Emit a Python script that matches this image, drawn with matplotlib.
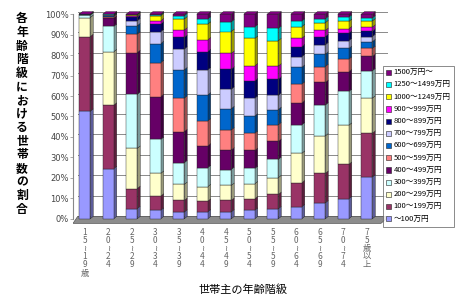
import numpy as np
import matplotlib
matplotlib.use("Agg")
from matplotlib import pyplot as plt
from matplotlib.patches import Polygon, Patch

plt.rcParams['font.family'] = ['Noto Sans CJK JP', 'DejaVu Sans']

# age groups (vertical labels)
ageLabels = ["1\n5\n≀\n1\n9\n歳", "2\n0\n≀\n2\n4", "2\n5\n≀\n2\n9", "3\n0\n≀\n3\n4",
             "3\n5\n≀\n3\n9", "4\n0\n≀\n4\n4", "4\n5\n≀\n4\n9", "5\n0\n≀\n5\n4",
             "5\n5\n≀\n5\n9", "6\n0\n≀\n6\n4", "6\n5\n≀\n6\n9", "7\n0\n≀\n7\n4",
             "7\n5\n歳\n以\n上"]

# income brackets, bottom -> top
incomeLabels = ["～100万円", "100～199万円", "200～299万円", "300～399万円", "400～499万円",
                "500～599万円", "600～699万円", "700～799万円", "800～899万円", "900～999万円",
                "1000～1249万円", "1250～1499万円", "1500万円～"]
colors = ["#9999FF", "#993366", "#FFFFCC", "#CCFFFF", "#660066", "#FF8080", "#0066CC",
          "#CCCCFF", "#000080", "#FF00FF", "#FFFF00", "#00FFFF", "#800080"]

inc0 = [52.5, 24.5, 5.0, 4.2, 3.3, 3.4, 3.4, 4.2, 4.9, 5.9, 7.8, 9.8, 20.4]
inc100 = [36.5, 31.0, 9.8, 6.9, 5.7, 5.2, 5.6, 5.6, 7.0, 11.7, 14.4, 16.8, 21.4]
inc200 = [9.3, 26.1, 19.6, 11.1, 7.8, 7.1, 7.3, 7.3, 8.2, 14.4, 18.3, 19.1, 17.1]
inc300 = [1.2, 12.4, 26.4, 16.6, 10.6, 9.3, 7.8, 7.5, 8.9, 13.9, 15.1, 16.5, 13.4]
inc400 = [0.2, 4.0, 20.4, 20.9, 15.2, 10.6, 9.5, 8.8, 8.8, 10.7, 11.0, 9.6, 7.0]
inc500 = [0.1, 0.8, 9.0, 16.6, 16.3, 12.2, 9.8, 8.4, 8.1, 9.2, 7.8, 6.2, 3.9]
inc600 = [0.05, 0.4, 4.1, 9.3, 13.9, 12.7, 10.4, 8.4, 7.5, 8.2, 6.0, 5.2, 3.3]
inc700 = [0.0, 0.2, 2.4, 5.8, 10.1, 12.3, 9.5, 8.7, 6.9, 5.2, 4.6, 3.8, 2.5]
inc800 = [0.0, 0.2, 1.7, 3.7, 5.7, 8.9, 9.8, 8.5, 7.9, 4.9, 4.0, 3.6, 2.6]
inc900 = [0.0, 0.1, 0.5, 1.6, 3.6, 5.7, 7.7, 7.3, 6.4, 4.1, 3.0, 2.2, 2.0]
inc1000 = [0.05, 0.1, 0.6, 2.5, 5.4, 7.7, 10.7, 13.4, 12.4, 5.7, 3.8, 3.6, 3.0]
inc1250 = [0.0, 0.1, 0.2, 0.4, 1.6, 2.5, 4.7, 5.7, 6.0, 2.7, 1.9, 2.1, 1.5]
inc1500 = [0.1, 0.1, 0.3, 0.4, 0.8, 2.4, 3.8, 6.2, 7.0, 3.4, 2.3, 1.5, 1.9]

series = np.array([inc0, inc100, inc200, inc300, inc400, inc500, inc600, inc700,
                   inc800, inc900, inc1000, inc1250, inc1500])
series = series / series.sum(axis=0) * 100  # 100% stacked

def darker(c, f=0.6):
    r, g, b = matplotlib.colors.to_rgb(c)
    return (r*f, g*f, b*f)

fig = plt.figure(figsize=(4.67, 3.0), dpi=100)
ax = fig.add_axes([73/467, 75/300, 315/467, 215/300])

x = np.arange(len(ageLabels))
w = 0.23      # half width
dx = 0.13     # depth
dy = 1.2

ax.set_xlim(-0.5, 12.9)
ax.set_ylim(-3, 102)

# back wall grid
for yv in range(0, 101, 10):
    ax.plot([-0.3, 12.9], [yv + dy, yv + dy], color="#8a8a8a", lw=0.7, zorder=0)
# floor
ax.add_patch(Polygon([(-0.5, -2.2), (12.6, -2.2), (12.95, dy), (-0.3, dy)],
                     closed=True, facecolor="#8c8c8c", edgecolor="#555555", lw=0.5, zorder=1))

bottom = np.zeros(len(x))
for i, vals in enumerate(series):
    for j, xc in enumerate(x):
        b = bottom[j]
        h = vals[j]
        if h <= 0:
            continue
        ax.add_patch(Polygon([(xc + w, b), (xc + w + dx, b + dy), (xc + w + dx, b + h + dy), (xc + w, b + h)],
                             closed=True, facecolor=darker(colors[i]), edgecolor="#222222", lw=0.3, zorder=2))
    ax.bar(x, vals, width=2*w, bottom=bottom, color=colors[i], edgecolor="#222222",
           linewidth=0.3, zorder=3)
    bottom += vals
# top caps
for j, xc in enumerate(x):
    ax.add_patch(Polygon([(xc - w, 100), (xc - w + dx, 100 + dy), (xc + w + dx, 100 + dy), (xc + w, 100)],
                         closed=True, facecolor=colors[-1], edgecolor="#222222", lw=0.3, zorder=4))

for s in ["top", "right", "bottom"]:
    ax.spines[s].set_visible(False)
ax.spines["left"].set_color("#888888")
ax.spines["left"].set_bounds(0, 100)
ax.set_yticks(range(0, 101, 10))
ax.set_yticklabels([f"{v}%" for v in range(0, 101, 10)], fontsize=6, color="#444444",
                   family=["DejaVu Sans"])
ax.tick_params(axis="y", length=2, width=0.5, color="#888888", pad=1)
ax.set_xticks(x)
ax.set_xticklabels(ageLabels, fontsize=6, color="#666666", linespacing=0.88, va="top")
ax.tick_params(axis="x", length=0, pad=2)

fig.text(22/467, 1 - 114/300, "\n".join("各年齢階級における世帯数の割合"), ha="center", va="center",
         fontsize=8.5, fontweight="bold", linespacing=1.06)
fig.text(243/467, 1 - 290/300, "世帯主の年齢階級", ha="center", va="center", fontsize=8)

handles = [Patch(facecolor=colors[i], edgecolor="#222222", lw=0.4, label=incomeLabels[i])
           for i in range(len(colors))][::-1]
leg = fig.legend(handles=handles, loc="upper left", bbox_to_anchor=(383/467, 1 - 66/300),
                 fontsize=5.5, frameon=True, fancybox=False, edgecolor="#555555",
                 handlelength=0.7, handleheight=0.7, handletextpad=0.3, labelspacing=0.55,
                 borderpad=0.4, borderaxespad=0)
leg.get_frame().set_linewidth(0.6)

fig.savefig("out.png", dpi=100)
